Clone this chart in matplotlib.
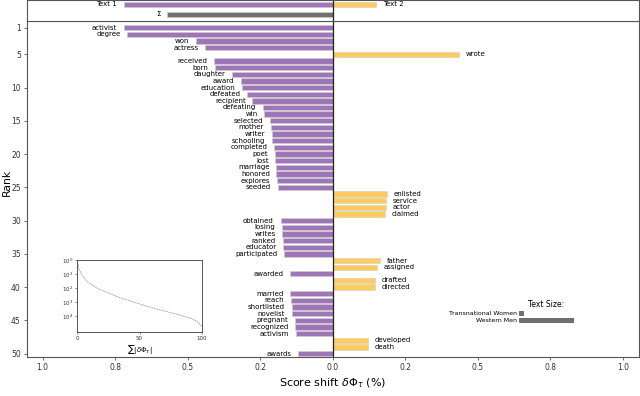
import matplotlib
matplotlib.use("Agg")
import matplotlib.pyplot as plt
import numpy as np

# ---------------- data ----------------
words = ["activist", "degree", "won", "actress", "wrote", "received", "born", "daughter",
         "award", "education", "defeated", "recipient", "defeating", "win", "selected",
         "mother", "writer", "schooling", "completed", "poet", "lost", "marriage", "honored",
         "explores", "seeded", "enlisted", "service", "actor", "claimed", "obtained", "losing",
         "writes", "ranked", "educator", "participated", "father", "assigned", "awarded",
         "drafted", "directed", "married", "reach", "shortlisted", "novelist", "pregnant",
         "recognized", "activism", "developed", "death", "awards"]
shifts = [-0.720, -0.709, -0.473, -0.439, 0.434, -0.411, -0.407, -0.347,
          -0.316, -0.313, -0.296, -0.277, -0.242, -0.236, -0.217,
          -0.214, -0.211, -0.209, -0.201, -0.200, -0.198, -0.195, -0.194,
          -0.192, -0.190, 0.187, 0.185, 0.185, 0.181, -0.180, -0.175,
          -0.174, -0.173, -0.171, -0.169, 0.164, 0.151, -0.148,
          0.146, 0.146, -0.146, -0.145, -0.142, -0.141, -0.131,
          -0.129, -0.127, 0.120, 0.120, -0.119]
ranks = list(range(1, len(words) + 1))

total_labels = ["Text 1", "Text 2", "\u03a3"]
total_values = [-0.72, 0.15, -0.57]

size_labels = ["Transnational Women", "Western Men"]
size_values = [0.07, 1.0]

xtick_vals = [-1.0, -0.75, -0.5, -0.25, 0.0, 0.25, 0.5, 0.75, 1.0]
xtick_labels = ["1.0", "0.8", "0.5", "0.2", "0.0", "0.2", "0.5", "0.8", "1.0"]
ytick_vals = [1, 5, 10, 15, 20, 25, 30, 35, 40, 45, 50]

cum_x = [0.5, 1.3, 4, 8, 16, 32, 48, 64, 80, 90.7, 96, 100]
cum_logrank = [0.12, 0.59, 1.06, 1.53, 2.0, 2.59, 3.06, 3.48, 3.84, 4.12, 4.35, 4.7]

# ---------------- style ----------------
PURPLE = "#9E75B7"
YELLOW = "#FECC5D"
GREY = "#707070"
SPINE = "#555555"
W, H = 640, 396

fig = plt.figure(figsize=(6.4, 3.96), dpi=100)

def fax(x0, y0, x1, y1):
    # pixel box (top-left origin) -> figure fraction
    return [x0 / W, 1 - y1 / H, (x1 - x0) / W, (y1 - y0) / H]

XL = (-1.054, 1.054)
off = 0.023

# main axes
ax = fig.add_axes(fax(27, 21, 638.5, 357))
colors = [PURPLE if v < 0 else YELLOW for v in shifts]
ax.barh(ranks, shifts, height=0.8, color=colors, edgecolor="#cfcfcf", linewidth=0.4)
for r, w, v in zip(ranks, words, shifts):
    if v < 0:
        ax.text(v - off, r, w, ha="right", va="center", fontsize=5)
    else:
        ax.text(v + off, r, w, ha="left", va="center", fontsize=5)
ax.axvline(0, color="#222222", lw=0.9)
ax.set_xlim(*XL)
ax.set_ylim(50.5, 0)
ax.set_yticks(ytick_vals)
ax.set_yticklabels([str(v) for v in ytick_vals])
ax.set_xticks(xtick_vals)
ax.set_xticklabels(xtick_labels)
ax.tick_params(labelsize=5.5, length=2.5, width=0.5, pad=2, colors="#333333")
ax.set_ylabel("Rank", fontsize=7.8)
ax.yaxis.set_label_coords(-0.025, 0.52)
ax.set_xlabel("Score shift $\\delta \\Phi_{\\tau}$ (%)", fontsize=8, labelpad=3)
for s in ax.spines.values():
    s.set_color(SPINE)
    s.set_linewidth(0.8)

# top totals axes
axt = fig.add_axes(fax(27, 0, 638.5, 21))
axt.set_xlim(*XL)
axt.set_ylim(21, 0)
axt.barh([4.5], [total_values[0]], height=5.6, color=PURPLE, edgecolor="#cfcfcf", linewidth=0.4)
axt.barh([4.5], [total_values[1]], height=5.6, color=YELLOW, edgecolor="#cfcfcf", linewidth=0.4)
axt.barh([14.5], [total_values[2]], height=4.4, color=GREY, edgecolor="#cfcfcf", linewidth=0.4)
axt.text(total_values[0] - off, 4.0, total_labels[0], ha="right", va="center", fontsize=5)
axt.text(total_values[1] + off, 4.0, total_labels[1], ha="left", va="center", fontsize=5)
axt.text(total_values[2] - off, 14.5, total_labels[2], ha="right", va="center", fontsize=5)
axt.axvline(0, color="#222222", lw=0.9)
axt.set_xticks([])
axt.set_yticks([])
for s in axt.spines.values():
    s.set_color(SPINE)
    s.set_linewidth(0.8)

# cumulative inset
axi = fig.add_axes(fax(77, 260, 202, 332))
axi.plot(cum_x, [10 ** v for v in cum_logrank], color="#999999", lw=0.6, ls=(0, (2, 1)))
axi.set_yscale("log")
axi.set_xlim(0, 100)
axi.set_ylim(10 ** 5.1, 1)
axi.set_xticks([0, 50, 100])
axi.set_yticks([1, 10, 100, 1000, 10000])
axi.minorticks_off()
axi.tick_params(labelsize=4, length=1.5, width=0.4, pad=1.5, colors="#333333")
axi.set_xlabel("$\\sum|\\delta\\Phi_{\\tau}|$", fontsize=5, labelpad=1)
for s in axi.spines.values():
    s.set_color(SPINE)
    s.set_linewidth(0.7)

# text size inset
axs = fig.add_axes(fax(519, 310, 574, 323))
axs.barh([0, 1], size_values, height=0.6, color=GREY, edgecolor="#333333", linewidth=0.4)
axs.set_xlim(0, 1.0)
axs.set_ylim(1.5, -0.5)
axs.set_yticks([0, 1])
axs.set_yticklabels(size_labels)
axs.set_xticks([])
axs.tick_params(labelsize=4.5, length=0, pad=1.5)
for s in axs.spines.values():
    s.set_visible(False)
axs.set_title("Text Size:", fontsize=5.5, pad=2)

fig.savefig("out.png", dpi=100)
